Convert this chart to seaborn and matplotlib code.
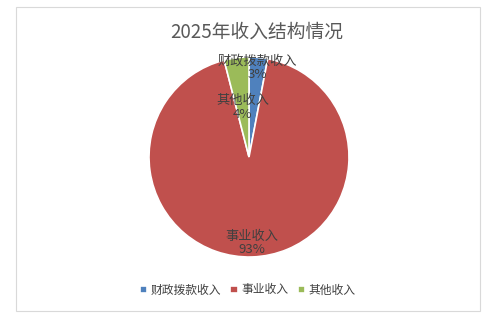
import matplotlib
matplotlib.use('Agg')
import matplotlib.pyplot as plt
import seaborn as sns
import numpy as np

sns.set_style('white')
plt.rcParams['font.family'] = ['Noto Sans CJK SC', 'DejaVu Sans']

# 数据
categories = ['财政拨款收入', '事业收入', '其他收入']
values = [3, 93, 4]
pct_labels = ['3%', '93%', '4%']
colors = ['#4F81BD', '#C0504D', '#9BBB59']

fig = plt.figure(figsize=(4.95, 3.22), dpi=100)

# 外框
frame = plt.Rectangle((16 / 495, 1 - 311 / 322), (480 - 16) / 495, (311 - 7) / 322,
                      transform=fig.transFigure, fill=False, edgecolor='#D9D9D9', lw=0.8)
fig.patches.append(frame)

ax = fig.add_axes([148 / 495, 1 - 258 / 322, 202 / 495, 202 / 322])
wedges, _ = ax.pie(values, colors=colors, startangle=90, counterclock=False,
                   wedgeprops=dict(edgecolor='white', linewidth=1.2))
ax.set_xlim(-1.01, 1.01)
ax.set_ylim(-1.01, 1.01)
ax.set_aspect('equal')

# 数据标签
rfrac = [0.9, 0.86, 0.5]
for w, name, pct, r in zip(wedges, categories, pct_labels, rfrac):
    ang = np.deg2rad((w.theta1 + w.theta2) / 2)
    x, y = r * np.cos(ang), r * np.sin(ang)
    ax.text(x, y, f'{name}\n{pct}', ha='center', va='center', fontsize=9.5,
            color='#404040', linespacing=1.05, clip_on=False)

fig.text(257 / 495, 1 - 32 / 322, '2025年收入结构情况', ha='center', va='center',
         fontsize=13.5, color='#595959')

fig.legend(wedges, categories, loc='center', bbox_to_anchor=(0.5, 1 - 290 / 322),
           ncol=3, frameon=False, fontsize=8.5, handlelength=0.6, handleheight=0.6,
           handletextpad=0.3, columnspacing=0.8, labelcolor='#404040')

plt.savefig('out.png', dpi=100)
plt.close()
